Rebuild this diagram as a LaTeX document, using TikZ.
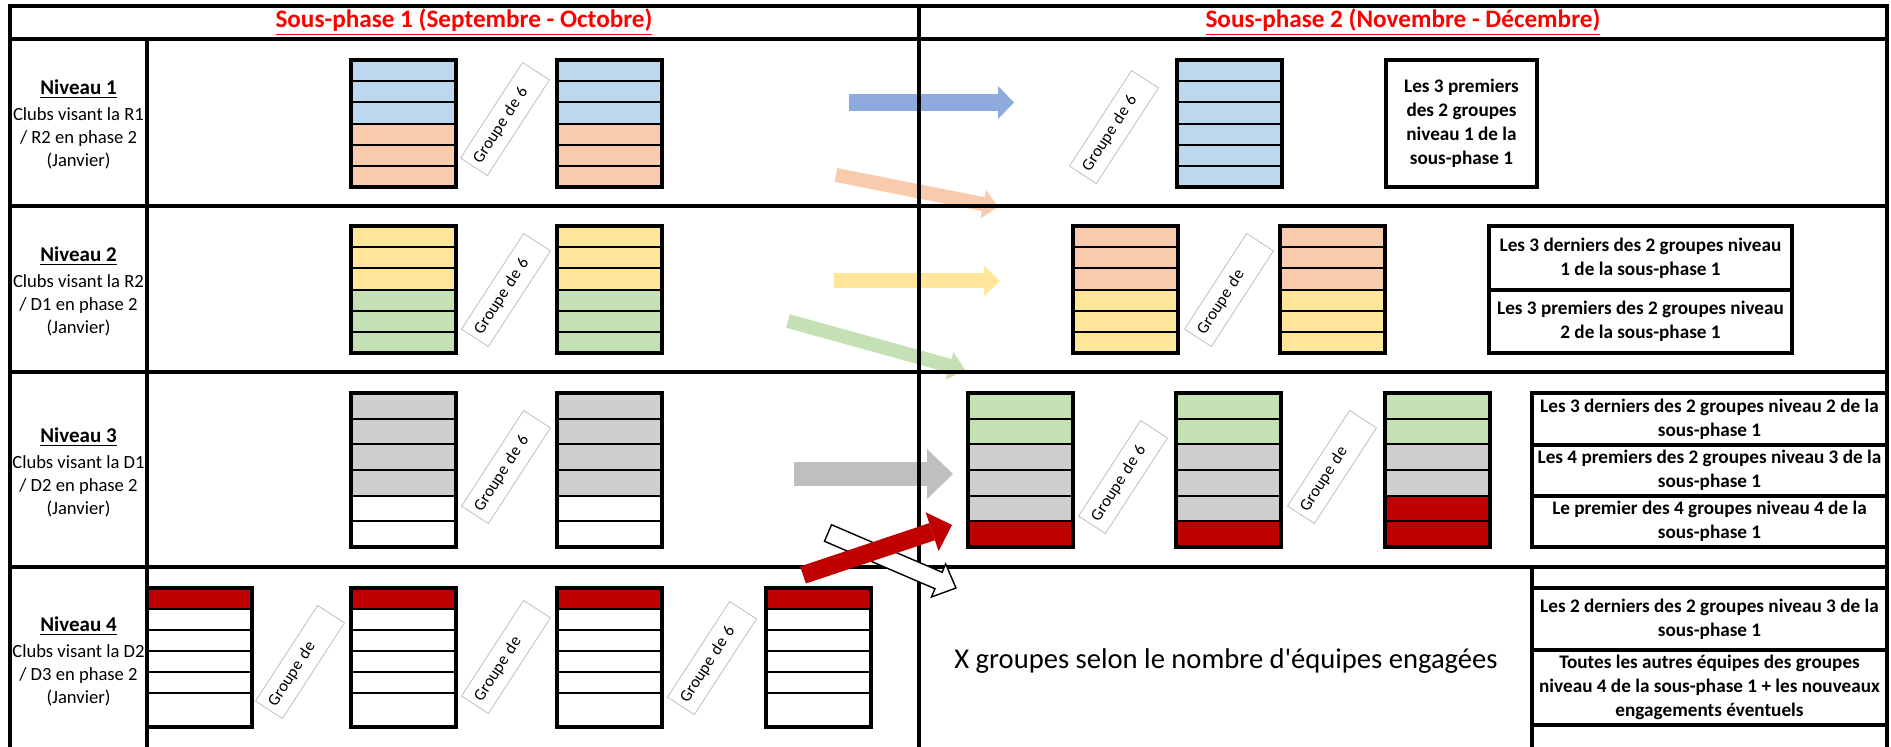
\documentclass[tikz,border=0pt]{standalone}
\usepackage{fontspec}
\setmainfont{Carlito}
\newfontfamily\plaincarlito{Carlito}
\usetikzlibrary{arrows.meta,calc}

\definecolor{sky}{HTML}{BDD7EE}
\definecolor{peach}{HTML}{F8CBAD}
\definecolor{sun}{HTML}{FFE699}
\definecolor{mint}{HTML}{C5E0B4}
\definecolor{ash}{HTML}{D0CECE}
\definecolor{deep}{HTML}{C00000}
\definecolor{steel}{HTML}{8FAADC}
\definecolor{slate}{HTML}{BFBFBF}

\tikzset{
	tabline/.style={line width=2pt},
	cell/.style={draw, line width=1pt},
	grp/.style={draw, line width=2.2pt},
	tag/.style={draw=black!25, line width=0.4pt, rotate=57,
		text width=51pt, inner xsep=3pt, inner ysep=0pt,
		minimum height=16pt, align=left,
		font=\fontsize{8.3}{10}\selectfont},
	note/.style={draw, line width=2pt, inner sep=0pt, align=center,
		font=\bfseries\fontsize{9.6}{12}\selectfont},
	lvl/.style={align=center, font=\fontsize{9.3}{11.5}\selectfont},
	shaft/.style n args={3}{line width=#1,
		-{Triangle[width=#2,length=#3,line width=0pt]}},
}

\begin{document}
\begin{tikzpicture}[x=0.5pt,y=-0.5pt]
	
	\useasboundingbox (0,0) rectangle (1891,747);
	\clip (0,0) rectangle (1891,747);
	\fill[white] (0,0) rectangle (1891,747);
	
	% ends of the arrows
	\coordinate (bS) at (849,102.5);  \coordinate (bE) at (1014,102.5);
	\coordinate (pS) at (836,175);    \coordinate (pE) at (998,207);
	\coordinate (yS) at (834,281);    \coordinate (yE) at (1000,281);
	\coordinate (gS) at (788,321);    \coordinate (gE) at (965,370);
	\coordinate (sS) at (794,474);    \coordinate (sE) at (953,474);
	\coordinate (rS) at (803,575);    \coordinate (rE) at (952,525);
	\coordinate (wS) at (828,533);    \coordinate (wE) at (956,588);
	
	\draw[shaft={8.5pt}{16.5pt}{8pt}, color=steel] (bS) -- (bE);
	\draw[shaft={7pt}{14.5pt}{7.5pt}, color=peach] (pS) -- (pE);
	\draw[shaft={7.5pt}{15pt}{8pt}, color=sun] (yS) -- (yE);
	\draw[shaft={7pt}{14.5pt}{8pt}, color=mint] (gS) -- (gE);
	\draw[shaft={12pt}{25pt}{13pt}, color=slate] (sS) -- (sE);
	
	% groups of teams
	\foreach \x/\y/\h/\H/\cols in {
		351/60/21.17/127/{sky,sky,sky,peach,peach,peach},
		557/60/21.17/127/{sky,sky,sky,peach,peach,peach},
		1177/60/21.17/127/{sky,sky,sky,sky,sky,sky},
		351/226/21.17/127/{sun,sun,sun,mint,mint,mint},
		557/226/21.17/127/{sun,sun,sun,mint,mint,mint},
		1073/226/21.17/127/{peach,peach,peach,sun,sun,sun},
		1280/226/21.17/127/{peach,peach,peach,sun,sun,sun},
		351/393/25.67/154/{ash,ash,ash,ash,white,white},
		557/393/25.67/154/{ash,ash,ash,ash,white,white},
		968/393/25.67/154/{mint,mint,ash,ash,ash,deep},
		1176/393/25.67/154/{mint,mint,ash,ash,ash,deep},
		1385/393/25.67/154/{mint,mint,ash,ash,deep,deep},
		147/588/21/139/{deep,white,white,white,white},
		351/588/21/139/{deep,white,white,white,white},
		557/588/21/139/{deep,white,white,white,white},
		766/588/21/139/{deep,white,white,white,white}}{
		\foreach \c [count=\i from 0] in \cols
			\draw[cell, fill=\c] (\x,\y+\h*\i) rectangle ++(105,\h);
		\draw[grp] (\x,\y) rectangle ++(105,\H);
	}
	
	\foreach \x/\y/\t [count=\k] in {
		505/119/Groupe de 6, 506/290/Groupe de 6, 506/467/Groupe de 6,
		300/662/Groupe de, 506/657/Groupe de, 712/658/Groupe de 6,
		1114/127/Groupe de 6, 1229/290/Groupe de,
		1123/477/Groupe de 6, 1332/467/Groupe de}
		\node[tag] (tag\k) at (\x,\y) {\t};
	
	% table
	\draw[tabline] (10,6) rectangle (1887,800);
	\draw[tabline] (10,39) -- (1887,39);
	\draw[tabline] (919,6) -- (919,800);
	\draw[tabline] (147,39) -- (147,800);
	\draw[tabline] (10,206) -- (1887,206);
	\draw[tabline] (10,372) -- (1887,372);
	\draw[tabline] (10,567) -- (1887,567);
	
	\node[text=red, font=\bfseries\fontsize{12.6}{15}\selectfont] (hd1)
		at (464,22) {\underline{Sous-phase 1 (Septembre - Octobre)}};
	\node[text=red, font=\bfseries\fontsize{12.6}{15}\selectfont] (hd2)
		at (1403,22) {\underline{Sous-phase 2 (Novembre - Décembre)}};
	
	\node[lvl] (lv1) at (78.5,124) {{\fontsize{10.5}{11.5}\selectfont\bfseries\underline{Niveau 1}}\\[1.5pt]
		Clubs visant la R1\\/ R2 en phase 2\\(Janvier)};
	\node[lvl] (lv2) at (78.5,291) {{\fontsize{10.5}{11.5}\selectfont\bfseries\underline{Niveau 2}}\\[1.5pt]
		Clubs visant la R2\\/ D1 en phase 2\\(Janvier)};
	\node[lvl] (lv3) at (78.5,472) {{\fontsize{10.5}{11.5}\selectfont\bfseries\underline{Niveau 3}}\\[1.5pt]
		Clubs visant la D1\\/ D2 en phase 2\\(Janvier)};
	\node[lvl] (lv4) at (78.5,661) {{\fontsize{10.5}{11.5}\selectfont\bfseries\underline{Niveau 4}}\\[1.5pt]
		Clubs visant la D2\\/ D3 en phase 2\\(Janvier)};
	
	% what each group of sous-phase 2 is made of
	\node[note, minimum width=75.5pt, minimum height=63.5pt] (n1) at (1461.5,123.5)
		{Les 3 premiers\\des 2 groupes\\niveau 1 de la\\sous-phase 1};
	\node[note, minimum width=151.5pt, minimum height=32pt] (n2) at (1640.5,258)
		{Les 3 derniers des 2 groupes niveau\\1 de la sous-phase 1};
	\node[note, minimum width=151.5pt, minimum height=31.5pt] (n3) at (1640.5,321.5)
		{Les 3 premiers des 2 groupes niveau\\2 de la sous-phase 1};
	\node[note, minimum width=177.5pt, minimum height=25.67pt] (n4) at (1709.5,419)
		{Les 3 derniers des 2 groupes niveau 2 de la\\sous-phase 1};
	\node[note, minimum width=177.5pt, minimum height=25.67pt] (n5) at (1709.5,470.3)
		{Les 4 premiers des 2 groupes niveau 3 de la\\sous-phase 1};
	\node[note, minimum width=177.5pt, minimum height=25.67pt] (n6) at (1709.5,521.7)
		{Le premier des 4 groupes niveau 4 de la\\sous-phase 1};
	\node[note, minimum width=177.5pt, minimum height=10.5pt] (e1) at (1709.5,577.5) {};
	\node[note, minimum width=177.5pt, minimum height=31pt] (n7) at (1709.5,619)
		{Les 2 derniers des 2 groupes niveau 3 de la\\sous-phase 1};
	\node[note, minimum width=177.5pt, minimum height=37.5pt] (n8) at (1709.5,687.5)
		{Toutes les autres équipes des groupes\\niveau 4 de la sous-phase 1 + les nouveaux\\engagements éventuels};
	\node[note, minimum width=177.5pt, minimum height=22.5pt] (e2) at (1709.5,747.5) {};
	
	\node[font=\plaincarlito\fontsize{14.3}{17}\selectfont] (xg) at (1226,661)
		{X groupes selon le nombre d'équipes engagées};
	
	% arrows of level 4, over the table
	\coordinate (wH) at ($(wE)!9.5pt!(wS)$);
	\draw[line width=0.7pt, fill=white]
		($(wS)!4.5pt!90:(wE)$) -- ($(wH)!4.5pt!90:(wE)$) -- ($(wH)!9pt!90:(wE)$)
		-- (wE) -- ($(wH)!9pt!-90:(wE)$) -- ($(wH)!4.5pt!-90:(wE)$)
		-- ($(wS)!4.5pt!-90:(wE)$) -- cycle;
	\draw[shaft={9pt}{20.5pt}{10.5pt}, color=deep] (rS) -- (rE);
	
\end{tikzpicture}
\end{document}
